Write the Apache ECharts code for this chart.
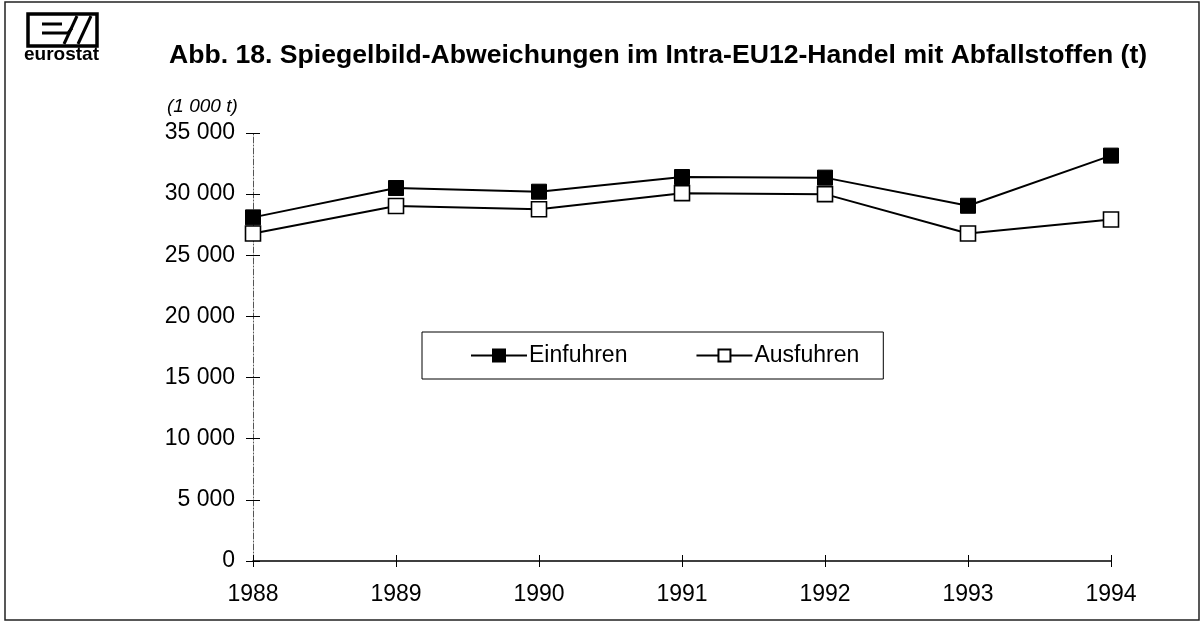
<!DOCTYPE html>
<html>
<head>
<meta charset="utf-8">
<script src="https://cdn.jsdelivr.net/npm/echarts@6/dist/echarts.min.js"></script>
<style>
html,body{margin:0;padding:0;background:#fff;}
#c{width:1204px;height:622px;}
</style>
</head>
<body>
<div id="c"></div>
<script>
var years = ['1988','1989','1990','1991','1992','1993','1994'];
var einfuhren = [28100, 30500, 30200, 31400, 31350, 29050, 33150];
var ausfuhren = [26780, 29030, 28760, 30080, 30000, 26780, 27930];
var yTicks = {min: 0, max: 35000, interval: 5000};
var titleText = 'Abb. 18. Spiegelbild-Abweichungen im Intra-EU12-Handel mit Abfallstoffen (t)';
var unitText = '(1 000 t)';
var seriesNames = ['Einfuhren', 'Ausfuhren'];

var FONT = 'Liberation Sans, Arial, sans-serif';
function fmt(v){ return String(v).replace(/\B(?=(\d{3})+(?!\d))/g, ' '); }

var chart = echarts.init(document.getElementById('c'), null, {renderer:'canvas'});
var gridPos = {left: 253, right: 93, top: 133, bottom: 61};

chart.setOption({
  backgroundColor: '#fff',
  animation: false,
  title: [
    {text: titleText, left: 164, top: 37,
     textStyle: {fontFamily: FONT, fontSize: 26.6, fontWeight: 'bold', color: '#000'}},
    {text: unitText, left: 162, top: 92,
     textStyle: {fontFamily: FONT, fontSize: 19, fontStyle: 'italic', fontWeight: 'normal', color: '#000'}}
  ],
  legend: {
    left: 422, top: 332,
    orient: 'horizontal',
    borderColor: '#000', borderWidth: 1,
    padding: [12, 24, 12, 48],
    itemGap: 68,
    itemWidth: 56, itemHeight: 15,
    textStyle: {fontFamily: FONT, fontSize: 23, color: '#000', padding: [0,0,0,-3]},
    data: seriesNames
  },
  grid: gridPos,
  xAxis: [{
    type: 'category', data: years, boundaryGap: false,
    axisLine: {lineStyle: {color: '#000', width: 1.5}},
    axisTick: {show: true, length: 6, lineStyle: {color: '#000', width: 1}},
    axisLabel: {fontFamily: FONT, fontSize: 23, color: '#000', margin: 22},
    splitLine: {show: false}
  }, {
    type: 'category', data: years, boundaryGap: false, position: 'bottom',
    axisLine: {show: false},
    axisTick: {show: true, inside: true, length: 6, lineStyle: {color: '#000', width: 1}},
    axisLabel: {show: false}, splitLine: {show: false}
  }],
  yAxis: [{
    type: 'value', min: yTicks.min, max: yTicks.max, interval: yTicks.interval,
    axisLine: {show: true, lineStyle: {color: '#555', width: 1, type: [6, 2, 1, 2]}},
    axisTick: {show: true, length: 7, lineStyle: {color: '#000', width: 1}},
    axisLabel: {fontFamily: FONT, fontSize: 23, color: '#000', margin: 18, formatter: fmt},
    splitLine: {show: false}
  }, {
    type: 'value', min: yTicks.min, max: yTicks.max, interval: yTicks.interval, position: 'left',
    axisLine: {show: false},
    axisTick: {show: true, inside: true, length: 7, lineStyle: {color: '#000', width: 1}},
    axisLabel: {show: false}, splitLine: {show: false}
  }],
  series: [{
    name: seriesNames[0], type: 'line', data: einfuhren,
    symbol: 'rect', symbolSize: 15, showAllSymbol: true,
    lineStyle: {color: '#000', width: 2},
    itemStyle: {color: '#000', borderColor: '#000', borderWidth: 1},
    z: 3
  }, {
    name: seriesNames[1], type: 'line', data: ausfuhren,
    symbol: 'rect', symbolSize: 15, showAllSymbol: true,
    lineStyle: {color: '#000', width: 2},
    itemStyle: {color: '#fff', borderColor: '#000', borderWidth: 1.6},
    z: 2
  }],
  graphic: [
    {type: 'rect', shape: {x: 5, y: 2, width: 1194, height: 618},
     style: {fill: 'none', stroke: '#222', lineWidth: 1.5}, silent: true},
    {type: 'rect', shape: {x: 28, y: 14, width: 69, height: 32},
     style: {fill: '#fff', stroke: '#000', lineWidth: 3.5}},
    {type: 'polyline', shape: {points: [[42,24],[62,24]]}, style: {stroke:'#000', lineWidth: 3}},
    {type: 'polyline', shape: {points: [[42,33],[68,33],[72,28]]}, style: {stroke:'#000', lineWidth: 3, fill: 'none'}},
    {type: 'polyline', shape: {points: [[64,44],[77,16]]}, style: {stroke:'#000', lineWidth: 3}},
    {type: 'polyline', shape: {points: [[78,44],[91,16]]}, style: {stroke:'#000', lineWidth: 3}},
    {type: 'text', left: 24, top: 45,
     style: {text: 'eurostat', fontFamily: FONT, fontSize: 19, fontWeight: 'bold', fill: '#000'}}
  ]
});
</script>
</body>
</html>
